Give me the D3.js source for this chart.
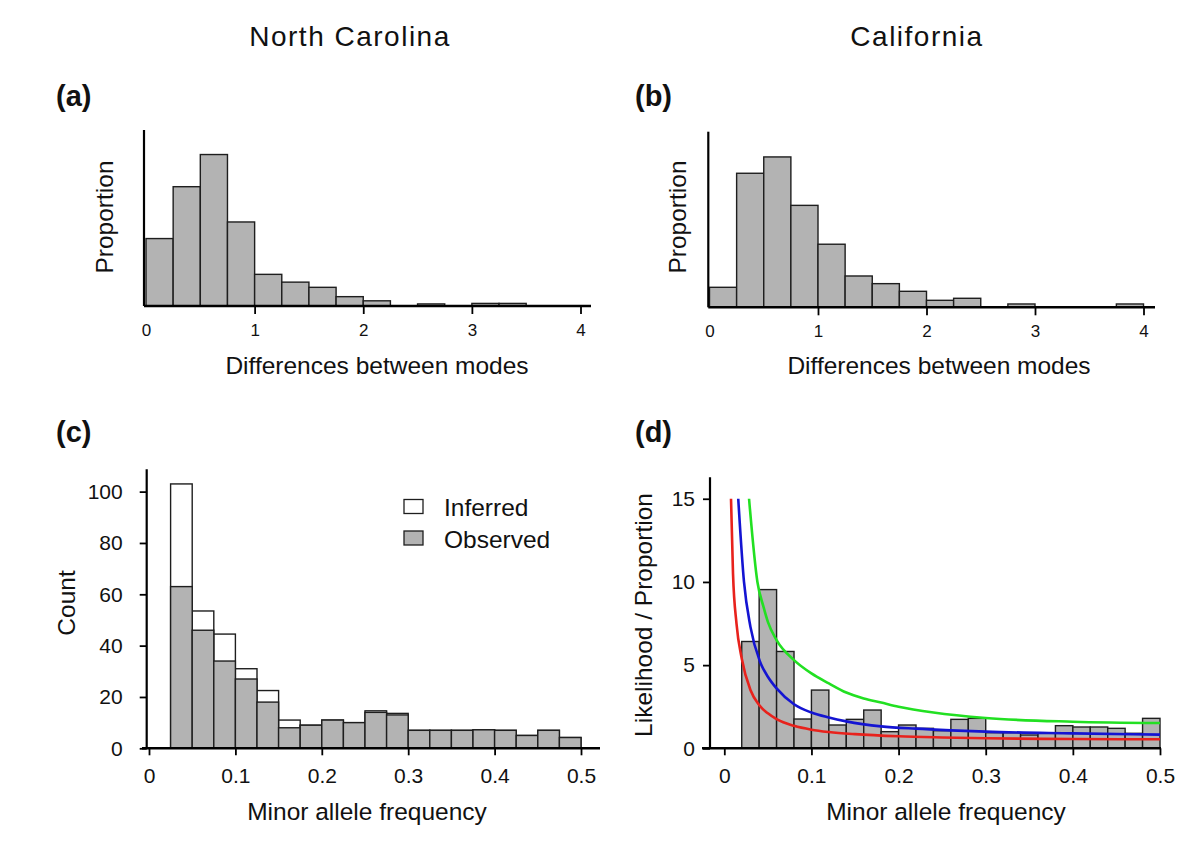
<!DOCTYPE html>
<html><head><meta charset="utf-8">
<script src="https://cdn.jsdelivr.net/npm/d3@7"></script>
<style>
body{margin:0;background:#fff}
text{font-family:"Liberation Sans",Arial,Helvetica,sans-serif;fill:#111}
</style>
</head><body>
<svg id="fig" width="1200" height="864"></svg>
<script>
// ---------- DATA ----------
const columnTitles = ["North Carolina", "California"];
const panelLetters = ["(a)", "(b)", "(c)", "(d)"];

// (a) / (b): differences between modes, bins of width 0.25 starting at 0
const modeBinStarts = [0,0.25,0.5,0.75,1,1.25,1.5,1.75,2,2.25,2.5,2.75,3,3.25,3.5,3.75];
const modeBinWidth = 0.25;
const ncModeProp = [0.130,0.230,0.292,0.162,0.061,0.046,0.036,0.018,0.010,0,0.004,0,0.005,0.005,0,0];
const caModeProp = [0.0355,0.238,0.267,0.181,0.112,0.0556,0.042,0.0284,0.0124,0.016,0,0.0059,0,0,0,0.0059];
const modeTicks = [0,1,2,3,4];

// (c): NC minor allele frequency counts, bins of width 0.025 from 0.025
const ncMafBinStarts = [0.025,0.05,0.075,0.1,0.125,0.15,0.175,0.2,0.225,0.25,0.275,0.3,0.325,0.35,0.375,0.4,0.425,0.45,0.475];
const ncMafBinWidth = 0.025;
const ncInferredTotal = [103,53.5,44.5,31,22.5,11,9,11,10,14.6,13.6,7,7,7,7.2,7,5,7,4.2];
const ncObserved      = [63,46,34,27,18,8,9,11,10,14,13,7,7,7,7.2,7,5,7,4.2];
const countTicks = [0,20,40,60,80,100];
const mafTicks = [0,0.1,0.2,0.3,0.4,0.5];
const legendLabels = ["Inferred", "Observed"];

// (d): CA minor allele frequency proportions (density), bins of width 0.02 from 0.02
const caMafBinStarts = [0.02,0.04,0.06,0.08,0.1,0.12,0.14,0.16,0.18,0.2,0.22,0.24,0.26,0.28,0.3,0.32,0.34,0.36,0.38,0.4,0.42,0.44,0.46,0.48];
const caMafBinWidth = 0.02;
const caMafDensity = [6.42,9.54,5.82,1.76,3.5,1.4,1.74,2.3,1.0,1.4,1.2,1.06,1.74,1.8,0.94,0.94,0.8,0.9,1.36,1.28,1.28,1.2,0.9,1.8];
const likTicks = [0,5,10,15];

// likelihood curves: [x, y]
const redCurve = [[0.0077,15],[0.010,10.5],[0.014,7.5],[0.02,5.4],[0.03,3.5],[0.04,2.6],[0.05,2.1],[0.06,1.75],[0.08,1.35],[0.10,1.12],[0.12,0.98],[0.15,0.85],[0.2,0.72],[0.25,0.65],[0.3,0.6],[0.4,0.56],[0.5,0.54]];
const blueCurve = [[0.016,15],[0.0226,10],[0.03,7.3],[0.041,5.2],[0.05,4.3],[0.06,3.6],[0.08,2.65],[0.1,2.15],[0.12,1.85],[0.14,1.62],[0.18,1.32],[0.22,1.18],[0.26,1.08],[0.3,1.0],[0.4,0.9],[0.5,0.82]];
const greenCurve = [[0.0284,15],[0.038,10],[0.045,8.5],[0.05,7.6],[0.06,6.5],[0.08,5.3],[0.1,4.5],[0.12,3.9],[0.14,3.35],[0.16,3.0],[0.18,2.75],[0.2,2.5],[0.24,2.15],[0.3,1.82],[0.4,1.6],[0.5,1.52]];
const curveColors = ["#e8221c", "#1414d2", "#22e022"];

// ---------- DRAWING ----------
const svg = d3.select("#fig");
const BAR_FILL = "#b3b3b3", BAR_STROKE = "#1e1e1e";
const TITLE_SIZE = 24.5;

function drawBars(g, starts, width, vals, x, y, fill) {
  g.append("g").selectAll("rect")
    .data(starts.map((s, i) => ({x0: s, x1: s + width, v: vals[i]})).filter(d => d.v > 0))
    .join("rect")
    .attr("x", d => x(d.x0)).attr("width", d => x(d.x1) - x(d.x0))
    .attr("y", d => y(d.v)).attr("height", d => y(0) - y(d.v))
    .attr("fill", fill).attr("stroke", BAR_STROKE).attr("stroke-width", 1.4);
}

function axisLines(g, xLeft, xRight, yBase, yAxisX, yTop) {
  g.append("line").attr("x1", xLeft).attr("x2", xRight).attr("y1", yBase).attr("y2", yBase)
    .attr("stroke", "#000").attr("stroke-width", 2.4);
  g.append("line").attr("x1", yAxisX).attr("x2", yAxisX).attr("y1", yTop).attr("y2", yBase)
    .attr("stroke", "#000").attr("stroke-width", 2.2);
}

function xAxis(g, x, yBase, ticks, fmt, size, pad, fontSize, hideZero) {
  const ax = g.append("g").attr("transform", `translate(0,${yBase})`)
    .call(d3.axisBottom(x).tickValues(ticks).tickFormat(fmt).tickSize(size).tickSizeOuter(0).tickPadding(pad));
  ax.select(".domain").remove();
  ax.selectAll(".tick line").attr("stroke", "#000").attr("stroke-width", 1.8)
    .attr("opacity", d => (hideZero && d === 0) ? 0 : 1);
  ax.selectAll(".tick text").attr("font-size", fontSize).attr("fill", "#111")
    .attr("font-family", '"Liberation Sans",Arial,sans-serif');
}

function yAxis(g, y, xPos, ticks, size, pad, fontSize) {
  const ax = g.append("g").attr("transform", `translate(${xPos},0)`)
    .call(d3.axisLeft(y).tickValues(ticks).tickFormat(d3.format("d")).tickSize(size).tickSizeOuter(0).tickPadding(pad));
  ax.select(".domain").remove();
  ax.selectAll(".tick line").attr("stroke", "#000").attr("stroke-width", 1.8);
  ax.selectAll(".tick text").attr("font-size", fontSize).attr("fill", "#111")
    .attr("font-family", '"Liberation Sans",Arial,sans-serif');
}

function rotLabel(text, x, y, size) {
  svg.append("text").attr("transform", `translate(${x},${y}) rotate(-90)`)
    .attr("text-anchor", "middle").attr("font-size", size).text(text);
}
function label(text, x, y, size, anchor = "middle") {
  return svg.append("text").attr("x", x).attr("y", y).attr("text-anchor", anchor).attr("font-size", size).text(text);
}

// column titles
label(columnTitles[0], 350, 46, 28).attr("letter-spacing", 1.5);
label(columnTitles[1], 917, 46, 28).attr("letter-spacing", 1.5);

// panel letters
[[56, 106], [635, 106], [56, 442], [635, 442]].forEach((p, i) => {
  label(panelLetters[i], p[0], p[1], 29, "start").attr("font-weight", "bold");
});

// ---- (a) ----
{
  const g = svg.append("g");
  const x = d3.scaleLinear().domain([0, 4]).range([146, 580.5]);
  const y = d3.scaleLinear().domain([0, 0.3393]).range([306, 130]);
  drawBars(g, modeBinStarts, modeBinWidth, ncModeProp, x, y, BAR_FILL);
  axisLines(g, 144, 591, 306, 144, 130);
  xAxis(g, x, 306, modeTicks, d3.format("d"), 8, 10, 17, true);
  rotLabel("Proportion", 113, 217, TITLE_SIZE);
  label("Differences between modes", 377, 374, TITLE_SIZE);
}
// ---- (b) ----
{
  const g = svg.append("g");
  const x = d3.scaleLinear().domain([0, 4]).range([709.5, 1143.5]);
  const y = d3.scaleLinear().domain([0, 0.3118]).range([307.3, 131.7]);
  drawBars(g, modeBinStarts, modeBinWidth, caModeProp, x, y, BAR_FILL);
  axisLines(g, 708.3, 1155, 307.3, 708.3, 131.7);
  xAxis(g, x, 307.3, modeTicks, d3.format("d"), 8, 10, 17, true);
  rotLabel("Proportion", 686, 217, TITLE_SIZE);
  label("Differences between modes", 939, 374, TITLE_SIZE);
}
// ---- (c) ----
{
  const g = svg.append("g");
  const x = d3.scaleLinear().domain([0, 0.5]).range([149, 581]);
  const y = d3.scaleLinear().domain([0, 108.7]).range([748.3, 469.3]);
  drawBars(g, ncMafBinStarts, ncMafBinWidth, ncInferredTotal, x, y, "#fff");
  drawBars(g, ncMafBinStarts, ncMafBinWidth, ncObserved, x, y, BAR_FILL);
  axisLines(g, 142, 600, 748.3, 146.7, 469.3);
  xAxis(g, x, 748.3, mafTicks, d => d === 0 ? "0" : d3.format(".1f")(d), 7, 13, 21, false);
  yAxis(g, y, 146.7, countTicks, 7, 17, 21);
  rotLabel("Count", 75, 603, TITLE_SIZE);
  label("Minor allele frequency", 367, 820, TITLE_SIZE);
  // legend
  const lg = svg.append("g");
  const fills = ["#fff", BAR_FILL];
  legendLabels.forEach((t, i) => {
    const yy = 499.5 + i * 31.5;
    lg.append("rect").attr("x", 404).attr("y", yy).attr("width", 19).attr("height", 14)
      .attr("fill", fills[i]).attr("stroke", BAR_STROKE).attr("stroke-width", 1.3);
    lg.append("text").attr("x", 444).attr("y", yy + 16.5).attr("font-size", TITLE_SIZE).text(t);
  });
}
// ---- (d) ----
{
  const g = svg.append("g");
  const x = d3.scaleLinear().domain([0, 0.5]).range([724.3, 1160]);
  const y = d3.scaleLinear().domain([0, 16.29]).range([748.3, 477.3]);
  drawBars(g, caMafBinStarts, caMafBinWidth, caMafDensity, x, y, BAR_FILL);
  const line = d3.line().x(d => x(d[0])).y(d => y(d[1])).curve(d3.curveMonotoneX);
  [redCurve, blueCurve, greenCurve].forEach((c, i) => {
    g.append("path").datum(c).attr("d", line).attr("fill", "none")
      .attr("stroke", curveColors[i]).attr("stroke-width", 2.6);
  });
  axisLines(g, 702, 1161, 748.3, 710, 477.3);
  xAxis(g, x, 748.3, mafTicks, d => d === 0 ? "0" : d3.format(".1f")(d), 7, 13, 21, false);
  yAxis(g, y, 710, likTicks, 7, 8, 21);
  rotLabel("Likelihood / Proportion", 652, 615, TITLE_SIZE);
  label("Minor allele frequency", 946, 820, TITLE_SIZE);
}
</script>
</body></html>
